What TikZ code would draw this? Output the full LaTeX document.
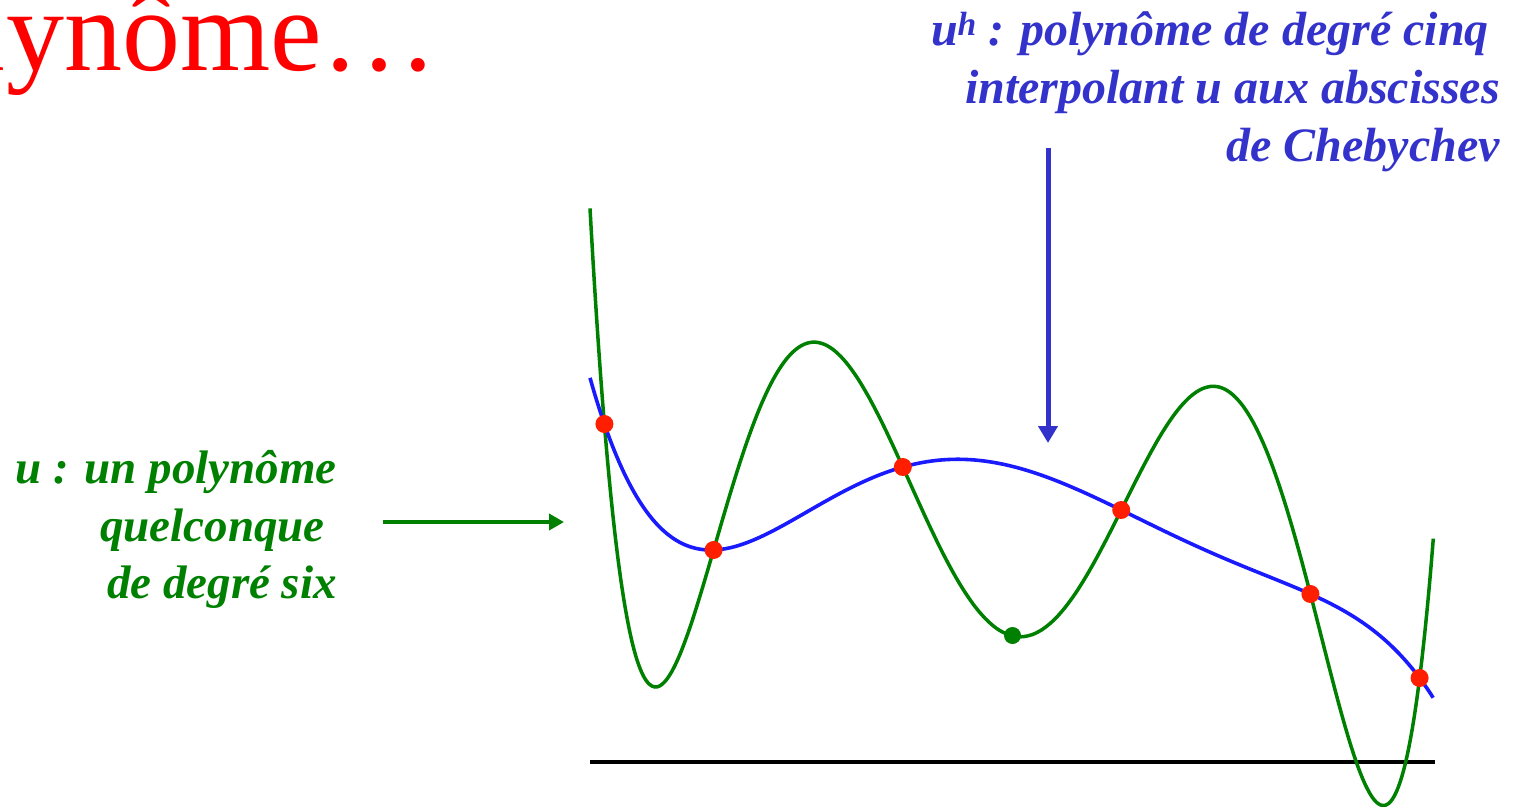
\documentclass[tikz,border=0pt]{standalone}
\usepackage{fontspec}
\setmainfont{Liberation Serif}
\usetikzlibrary{arrows.meta}
\definecolor{ugreen}{RGB}{0,128,0}
\definecolor{ublue}{RGB}{26,26,255}
\definecolor{tblue}{RGB}{51,51,204}
\definecolor{dotred}{RGB}{255,30,0}
\definecolor{titlered}{RGB}{255,0,0}
\tikzset{
  greenlbl/.style={inner sep=0pt, text=ugreen, font=\fontsize{47}{56}\selectfont\bfseries\itshape},
  bluelbl/.style={inner sep=0pt, text=tblue, font=\fontsize{48}{58}\selectfont\bfseries\itshape},
  reddot/.style={circle, fill=dotred, inner sep=0pt, minimum size=18pt},
  greendot/.style={circle, fill=ugreen, inner sep=0pt, minimum size=17pt},
  declare function={
    qa(\t)=\t*\t-0.9330127;
    qb(\t)=\t*\t-0.5;
    qc(\t)=\t*\t-0.0669873;
    wn(\t)=qa(\t)*qb(\t)*qc(\t);
    blue(\t)= 424*(\t-0.9659258)*qb(\t)*qc(\t)/(-0.7244444)
            + 678*(\t+0.9659258)*qb(\t)*qc(\t)/(0.7244444)
            + 550*(\t-0.7071068)*qa(\t)*qc(\t)/(0.2651650)
            + 594*(\t+0.7071068)*qa(\t)*qc(\t)/(-0.2651650)
            + 467*(\t-0.2588190)*qa(\t)*qb(\t)/(-0.1941143)
            + 510*(\t+0.2588190)*qa(\t)*qb(\t)/(0.1941143);
    green(\t)=blue(\t)-5424*wn(\t);
  }
}
\begin{document}
\begin{tikzpicture}[x=1pt,y=-1pt]
\useasboundingbox (0,0) rectangle (1515,806);
\clip (0,0) rectangle (1515,806);

% title fragment
\node[inner sep=0pt, anchor=base east, text=titlered, font=\fontsize{116}{134}\selectfont] (title) at (438,70) {polynôme…};

% labels
\node[bluelbl, anchor=base east] (b1) at (1489,45) {u\textsuperscript{h} : polynôme de degré cinq};
\node[bluelbl, anchor=base east] (b2) at (1500,103) {interpolant u aux abscisses};
\node[bluelbl, anchor=base east] (b3) at (1500,161) {de Chebychev};

\node[greenlbl, anchor=base east] (g1) at (337,483) {u : un polynôme};
\node[greenlbl, anchor=base east] (g2) at (325,541) {quelconque};
\node[greenlbl, anchor=base east] (g3) at (337,598) {de degré six};

% axis
\coordinate (axL) at (590,762);
\coordinate (axR) at (1435,762);
\draw[line width=4pt, black] (axL) -- (axR);

% curves (t in [-1,1], x = 1012 + 422 t)
\draw[ugreen, line width=3.5pt, samples=300, domain=-1:1, smooth]
  plot ({1012+422*\x},{green(\x)});
\draw[ublue, line width=3.6pt, samples=200, domain=-1:1, smooth]
  plot ({1012+422*\x},{blue(\x)});

% interpolation points
\node[reddot] (p1) at (604.4,424) {};
\node[reddot] (p2) at (713.6,550) {};
\node[reddot] (p3) at (902.8,467) {};
\node[reddot] (p4) at (1121.2,510) {};
\node[reddot] (p5) at (1310.4,594) {};
\node[reddot] (p6) at (1419.6,678) {};
\node[greendot] (gm) at (1012.5,635.5) {};

% arrows
\coordinate (bs) at (1048,148);
\coordinate (be) at (1048,443);
\draw[tblue, line width=5pt, -{Triangle[width=19pt,length=17pt]}] (bs) -- (be);
\coordinate (gs) at (383,522);
\coordinate (ge) at (564,522);
\draw[ugreen, line width=4.5pt, -{Triangle[width=16pt,length=15pt]}] (gs) -- (ge);
\end{tikzpicture}
\end{document}
